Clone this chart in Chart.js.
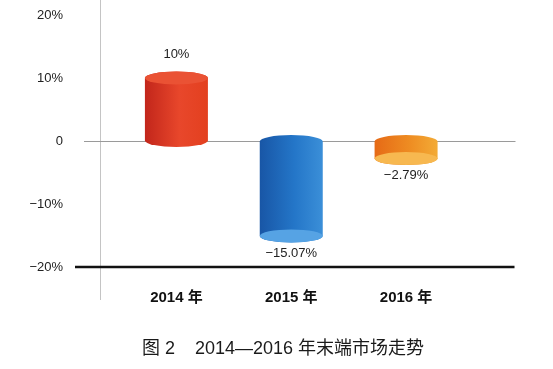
<!DOCTYPE html>
<html>
<head>
<meta charset="utf-8">
<script src="https://cdn.jsdelivr.net/npm/chart.js@4.4.0/dist/chart.umd.min.js"></script>
<style>
  html, body { margin: 0; padding: 0; background: #fff; }
  #wrap { width: 553px; height: 369px; }
</style>
</head>
<body>
<div id="wrap"><canvas id="c"></canvas></div>
<script>
const years = ['2014 年', '2015 年', '2016 年'];
const growth = [10, -15.07, -2.79];
const yTicks = [20, 10, 0, -10, -20];
const caption = '图 2    2014—2016 年末端市场走势';

// cylinder colours per bar: left, middle, right, cap
const palette = [
  ['#c2261b', '#e8472b', '#e3401f', '#ea5234'],
  ['#1856a6', '#2476c8', '#3b8fd8', '#56a3e4'],
  ['#e66a16', '#ee8c22', '#f3ab36', '#f7b850']
];

const FONT = '"Liberation Sans", "Noto Sans CJK SC", sans-serif';
Chart.defaults.font.family = FONT;

const pct = v => (v === 0 ? '0' : (v < 0 ? '\u2212' : '') + Math.abs(v) + '%');

// axis line, zero line and thick base line
const axisLines = {
  id: 'axisLines',
  beforeDatasetsDraw(chart) {
    const { ctx, chartArea: a, scales: { y } } = chart;
    ctx.save();
    ctx.strokeStyle = '#c4c4c4';
    ctx.lineWidth = 1;
    ctx.beginPath();
    ctx.moveTo(a.left - 18.5, 0);
    ctx.lineTo(a.left - 18.5, a.bottom + 33);
    ctx.stroke();

    const y0 = Math.round(y.getPixelForValue(0)) + 0.5;
    ctx.strokeStyle = '#9a9a9a';
    ctx.beginPath();
    ctx.moveTo(a.left - 35, y0);
    ctx.lineTo(a.right + 52, y0);
    ctx.stroke();

    const yb = y.getPixelForValue(y.min);
    ctx.strokeStyle = '#111';
    ctx.lineWidth = 2.5;
    ctx.beginPath();
    ctx.moveTo(a.left - 44, yb);
    ctx.lineTo(a.right + 51, yb);
    ctx.stroke();
    ctx.restore();
  }
};

// draw each bar as a cylinder
const cylinders = {
  id: 'cylinders',
  afterDatasetsDraw(chart) {
    const ctx = chart.ctx;
    chart.getDatasetMeta(0).data.forEach((bar, i) => {
      const c = palette[i];
      const rx = bar.width / 2, ry = 6.5;
      const top = Math.min(bar.y, bar.base), bottom = Math.max(bar.y, bar.base);
      const left = bar.x - rx, right = bar.x + rx;
      const g = ctx.createLinearGradient(left, 0, right, 0);
      g.addColorStop(0, c[0]);
      g.addColorStop(0.55, c[1]);
      g.addColorStop(1, c[2]);
      ctx.save();
      ctx.beginPath();
      ctx.moveTo(left, top);
      ctx.ellipse(bar.x, top, rx, ry, 0, Math.PI, 2 * Math.PI);
      ctx.lineTo(right, bottom);
      ctx.ellipse(bar.x, bottom, rx, ry, 0, 0, Math.PI);
      ctx.closePath();
      ctx.fillStyle = g;
      ctx.fill();
      ctx.beginPath();
      ctx.ellipse(bar.x, bar.y, rx, ry, 0, 0, 2 * Math.PI);
      ctx.fillStyle = c[3];
      ctx.fill();
      ctx.restore();
    });
  }
};

// value labels above / below the bars
const valueLabels = {
  id: 'valueLabels',
  afterDatasetsDraw(chart) {
    const ctx = chart.ctx;
    ctx.save();
    ctx.font = '13px ' + FONT;
    ctx.fillStyle = '#222';
    ctx.textAlign = 'center';
    ctx.textBaseline = 'middle';
    chart.getDatasetMeta(0).data.forEach((bar, i) => {
      const v = growth[i];
      ctx.fillText(pct(v), bar.x, v >= 0 ? bar.y - 24 : bar.y + 17);
    });
    ctx.restore();
  }
};

// invisible tick marks are used only to push the labels away from the axis
const spacer = len => ({ display: true, drawOnChartArea: false, drawTicks: true, tickLength: len, color: 'rgba(0,0,0,0)' });

new Chart(document.getElementById('c'), {
  type: 'bar',
  data: {
    labels: years,
    datasets: [{
      data: growth,
      backgroundColor: 'rgba(0,0,0,0)',
      barThickness: 63
    }]
  },
  options: {
    responsive: true,
    maintainAspectRatio: false,
    animation: false,
    layout: { padding: { left: 13, top: 15, right: 0, bottom: 0 } },
    plugins: {
      legend: { display: false },
      tooltip: { enabled: false },
      title: {
        display: true,
        text: caption,
        position: 'bottom',
        color: '#1a1a1a',
        font: { size: 18, weight: 'normal' },
        padding: { top: 0, bottom: 9 }
      }
    },
    scales: {
      x: {
        grid: spacer(17),
        border: { display: false },
        ticks: { color: '#111', font: { size: 15, weight: 'bold' }, padding: 5 },
        afterFit: s => { s.height = 71.4; }
      },
      y: {
        min: -20,
        max: 20,
        grid: spacer(50),
        border: { display: false },
        afterBuildTicks: s => { s.ticks = yTicks.map(v => ({ value: v })); },
        ticks: { callback: v => pct(v), color: '#222', font: { size: 13 }, padding: 6 },
        afterFit: s => { s.width = 106; }
      },
      y2: {
        position: 'right',
        grid: { display: false, drawTicks: false },
        border: { display: false },
        ticks: { display: false },
        afterFit: s => { s.width = 89.5; }
      }
    }
  },
  plugins: [axisLines, cylinders, valueLabels]
});
</script>
</body>
</html>
